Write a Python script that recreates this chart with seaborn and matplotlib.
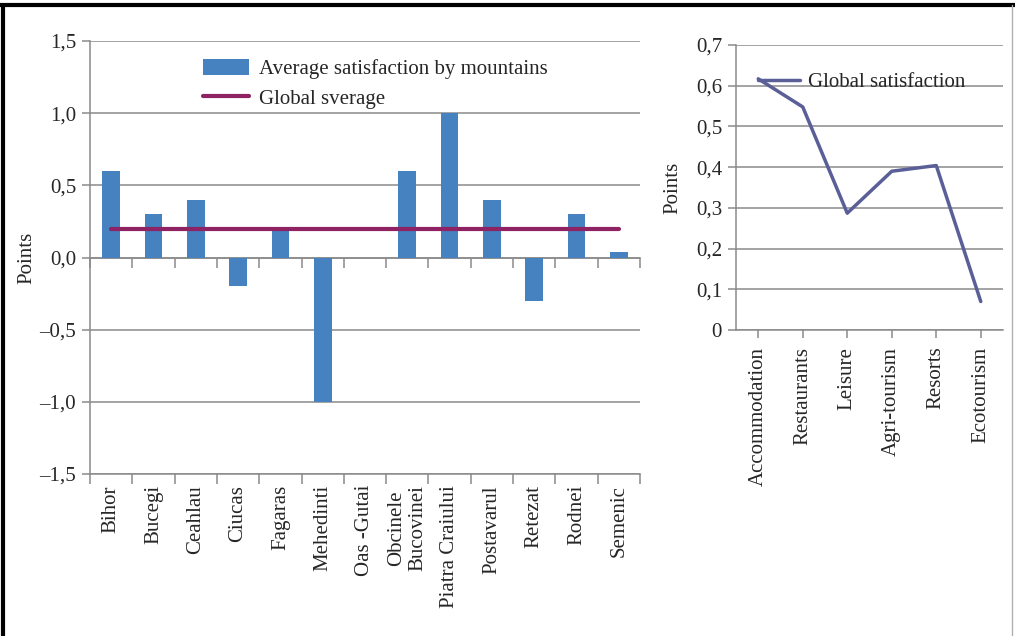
import matplotlib
matplotlib.use("Agg")
import matplotlib.pyplot as plt
import seaborn as sns
import numpy as np
import pandas as pd
from matplotlib.patches import Patch
from matplotlib.lines import Line2D

# ---------------- data ----------------
mountains = ["Bihor", "Bucegi", "Ceahlau", "Ciucas", "Fagaras", "Mehedinti",
             "Oas -Gutai", "Obcinele\nBucovinei", "Piatra Craiului", "Postavarul",
             "Retezat", "Rodnei", "Semenic"]
avg_satisfaction = [0.6, 0.3, 0.4, -0.2, 0.2, -1.0, 0.0, 0.6, 1.0, 0.4, -0.3, 0.3, 0.04]
global_average = [0.2] * len(mountains)

left_yticks = [-1.5, -1.0, -0.5, 0.0, 0.5, 1.0, 1.5]
left_yticklabels = ["\u20131,5", "\u20131,0", "\u20130,5", "0,0", "0,5", "1,0", "1,5"]

services = ["Accommodation", "Restaurants", "Leisure", "Agri-tourism", "Resorts", "Ecotourism"]
global_satisfaction = [0.617, 0.548, 0.287, 0.390, 0.404, 0.070]

right_yticks = [0, 0.1, 0.2, 0.3, 0.4, 0.5, 0.6, 0.7]
right_yticklabels = ["0", "0,1", "0,2", "0,3", "0,4", "0,5", "0,6", "0,7"]

# ---------------- style ----------------
sns.set_theme(style="white")
plt.rcParams["font.family"] = ["Liberation Serif", "DejaVu Serif"]
FS = 15
GRID = "#8a8a8a"
BAR = "#4681C0"
AVG = "#8E2263"
GLOB = "#5A5F98"

fig = plt.figure(figsize=(10.15, 6.36), dpi=100)
ax1 = fig.add_axes([0.0887, 0.2547, 0.5418, 0.6808])
ax2 = fig.add_axes([0.7251, 0.4811, 0.2631, 0.4481])

# ---------------- left chart ----------------
df1 = pd.DataFrame({"mountain": mountains, "value": avg_satisfaction})
sns.barplot(data=df1, x="mountain", y="value", ax=ax1, color=BAR,
            width=0.42, saturation=1, linewidth=0, edgecolor="none", zorder=3)
sns.pointplot(x=mountains, y=global_average, ax=ax1, color=AVG,
              marker="", linestyle="-", linewidth=3, zorder=4)

ax1.set_ylim(-1.5, 1.5)
ax1.set_xlim(-0.5, len(mountains) - 0.5)
ax1.set_yticks(left_yticks)
ax1.set_yticklabels(left_yticklabels, fontsize=FS)
ax1.yaxis.grid(True, color=GRID, lw=1.1, zorder=0)
ax1.set_axisbelow(True)
for s in ["top", "right"]:
    ax1.spines[s].set_visible(False)
for s in ["left", "bottom"]:
    ax1.spines[s].set_color(GRID)
    ax1.spines[s].set_linewidth(1.1)
ax1.tick_params(axis="y", which="major", left=True, length=6, color=GRID, width=1.1, pad=4)
ax1.set_xticks(range(len(mountains)))
ax1.set_xticklabels(mountains, rotation=90, fontsize=FS, va="top", ha="center",
                    multialignment="center")
ax1.tick_params(axis="x", which="major", bottom=False, length=0, pad=8)
boundaries = np.arange(-0.5, len(mountains), 1.0)
ax1.set_xticks(boundaries, minor=True)
ax1.tick_params(axis="x", which="minor", bottom=True, length=7, color=GRID, width=1.1)
sec = ax1.secondary_xaxis(0.5)
sec.set_alignment("bottom")
sec.set_xticks(boundaries)
sec.set_xticklabels([])
sec.tick_params(axis="x", direction="out", bottom=True, top=False,
                length=7, color=GRID, width=1.1)
sec.spines["bottom"].set_color(GRID)
sec.spines["bottom"].set_linewidth(1.1)
ax1.set_xlabel("")
ax1.set_ylabel("Points", fontsize=FS)
ax1.yaxis.set_label_coords(-0.097, 0.5)

h1 = [Patch(facecolor=BAR, edgecolor="none"),
      Line2D([], [], color=AVG, lw=3)]
ax1.legend(h1, ["Average satisfaction by mountains", "Global sverage"],
           loc="upper left", bbox_to_anchor=(0.19, 0.978), frameon=False,
           fontsize=FS, handlelength=2.2, handleheight=0.8, handletextpad=0.5,
           labelspacing=0.45, borderaxespad=0)

# ---------------- right chart ----------------
sns.pointplot(x=services, y=global_satisfaction, ax=ax2, color=GLOB,
              marker="", linestyle="-", linewidth=2.5, zorder=3)
ax2.set_ylim(0, 0.7)
ax2.set_xlim(-0.5, len(services) - 0.5)
ax2.set_yticks(right_yticks)
ax2.set_yticklabels(right_yticklabels, fontsize=FS)
ax2.yaxis.grid(True, color=GRID, lw=1.1, zorder=0)
ax2.set_axisbelow(True)
for s in ["top", "right"]:
    ax2.spines[s].set_visible(False)
for s in ["left", "bottom"]:
    ax2.spines[s].set_color(GRID)
    ax2.spines[s].set_linewidth(1.1)
ax2.tick_params(axis="y", left=True, length=6, color=GRID, width=1.1, pad=4)
ax2.set_xticks(range(len(services)))
ax2.set_xticklabels(services, rotation=90, fontsize=FS, va="top", ha="center")
ax2.tick_params(axis="x", bottom=True, length=6, color=GRID, width=1.1, pad=6)
ax2.set_xlabel("")
ax2.set_ylabel("Points", fontsize=FS)
ax2.yaxis.set_label_coords(-0.199, 0.5)

h2 = [Line2D([], [], color=GLOB, lw=2.5)]
ax2.legend(h2, ["Global satisfaction"], loc="center left",
           bbox_to_anchor=(0.082, 0.87), frameon=False, fontsize=FS,
           handlelength=2.0, handletextpad=0.4, borderaxespad=0, borderpad=0)

# ---------------- frame ----------------
fig.add_artist(Line2D([0.0, 1.0], [0.992, 0.992], transform=fig.transFigure,
                      color="black", lw=3))
fig.add_artist(Line2D([0.003, 0.003], [0.0, 0.992], transform=fig.transFigure,
                      color="black", lw=3))
fig.add_artist(Line2D([0.997, 0.997], [0.0, 0.992], transform=fig.transFigure,
                      color="#b0b0b0", lw=1))

fig.savefig("out.png", dpi=100)
